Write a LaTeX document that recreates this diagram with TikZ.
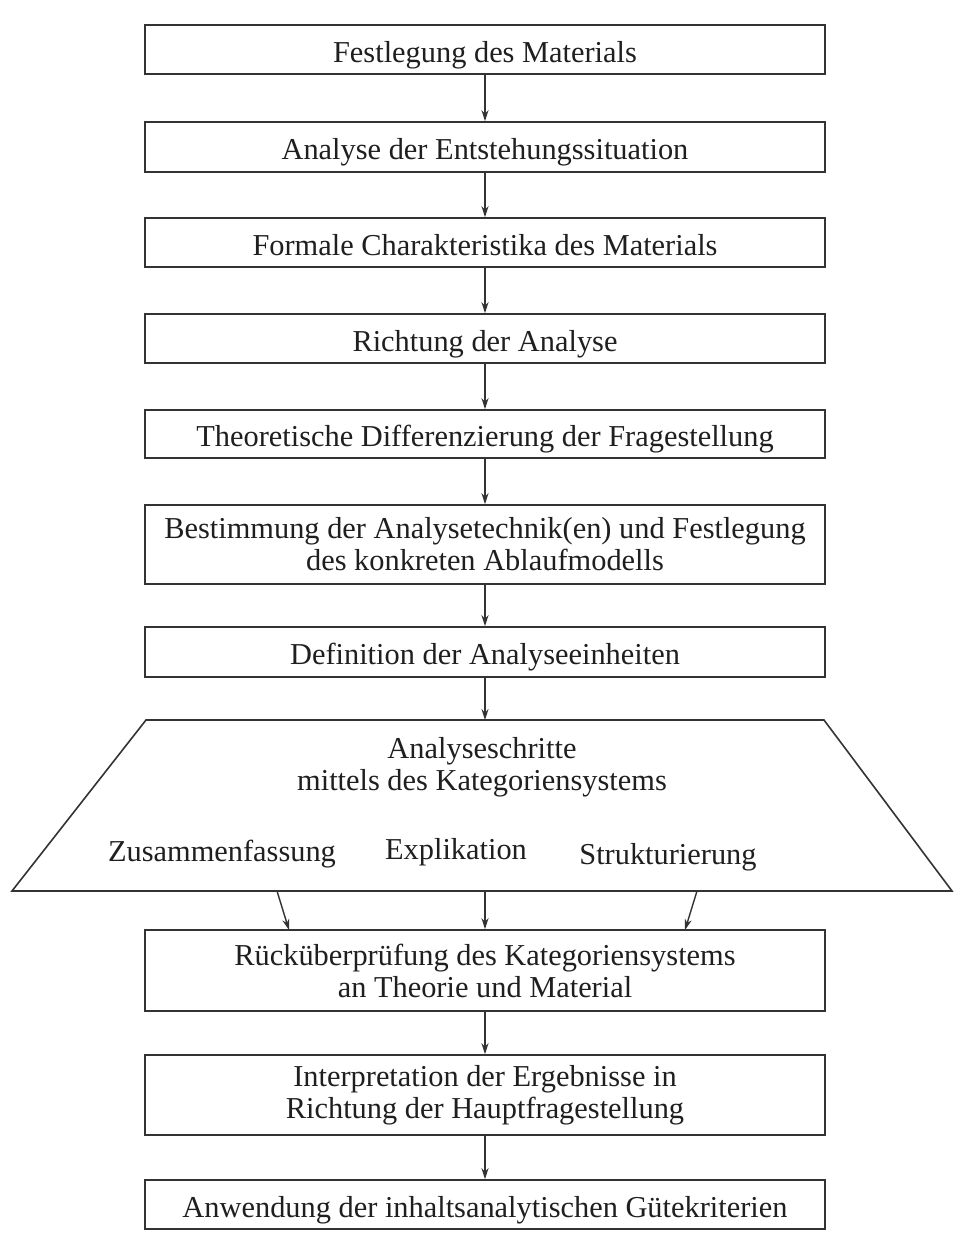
\documentclass[tikz,border=0pt]{standalone}
\usepackage{fontspec}
\setmainfont{Liberation Serif}
\usetikzlibrary{arrows.meta}
\begin{document}
\begin{tikzpicture}[x=1bp,y=-1bp,
  box/.style={draw=black!80, line width=1.6bp, minimum width=680bp, inner sep=0pt,
    align=center, font=\fontsize{30.5}{32}\selectfont, text=black!88},
  oneline/.style={text height=25bp, text depth=0pt},
  lbl/.style={inner sep=0pt, align=center, font=\fontsize{30.5}{32}\selectfont, text=black!88},
  arr/.style={draw=black!80, line width=1.4bp, -{Stealth[length=11bp,width=7bp]}},
  trap/.style={draw=black!80, line width=1.6bp, line join=miter}]
\fill[white] (0,0) rectangle (955,1247);
\node[box, oneline, minimum height=49bp] (b1) at (485,49.5) {Festlegung des Materials};
\node[box, oneline, minimum height=50bp] (b2) at (485,147) {Analyse der Entstehungssituation};
\node[box, oneline, minimum height=49bp] (b3) at (485,242.5) {Formale Charakteristika des Materials};
\node[box, oneline, minimum height=49bp] (b4) at (485,338.5) {Richtung der Analyse};
\node[box, oneline, minimum height=48bp] (b5) at (485,434) {Theoretische Differenzierung der Fragestellung};
\node[box, minimum height=79bp] (b6) at (485,544.5) {Bestimmung der Analysetechnik(en) und Festlegung\\des konkreten Ablaufmodells};
\node[box, oneline, minimum height=50bp] (b7) at (485,652) {Definition der Analyseeinheiten};
% trapezoid
\coordinate (tA) at (146,720);
\coordinate (tB) at (824,720);
\coordinate (tC) at (952,891);
\coordinate (tD) at (12,891);
\draw[trap] (tA) -- (tB) -- (tC) -- (tD) -- cycle;
\coordinate (ttop) at (485,720);
\node[lbl] (t1) at (482,767) {Analyseschritte\\mittels des Kategoriensystems};
\node[lbl] (z1) at (222,854) {Zusammenfassung};
\node[lbl] (z2) at (456,852) {Explikation};
\node[lbl] (z3) at (668,857) {Strukturierung};
\node[box, minimum height=81bp] (b9) at (485,970.5) {Rücküberprüfung des Kategoriensystems\\an Theorie und Material};
\node[box, minimum height=80bp] (b10) at (485,1095) {Interpretation der Ergebnisse in\\Richtung der Hauptfragestellung};
\node[box, oneline, minimum height=49bp] (b11) at (485,1204.5) {Anwendung der inhaltsanalytischen Gütekriterien};
% connectors
\draw[arr] (b1.south) -- (b2.north);
\draw[arr] (b2.south) -- (b3.north);
\draw[arr] (b3.south) -- (b4.north);
\draw[arr] (b4.south) -- (b5.north);
\draw[arr] (b5.south) -- (b6.north);
\draw[arr] (b6.south) -- (b7.north);
\draw[arr] (b7.south) -- (ttop);
\coordinate (sL) at (277,891);
\coordinate (sC) at (485,891);
\coordinate (sR) at (697,891);
\coordinate (eL) at (289,930);
\coordinate (eR) at (685,930);
\draw[arr] (sL) -- (eL);
\draw[arr] (sC) -- (b9.north);
\draw[arr] (sR) -- (eR);
\draw[arr] (b9.south) -- (b10.north);
\draw[arr] (b10.south) -- (b11.north);
\end{tikzpicture}
\end{document}
